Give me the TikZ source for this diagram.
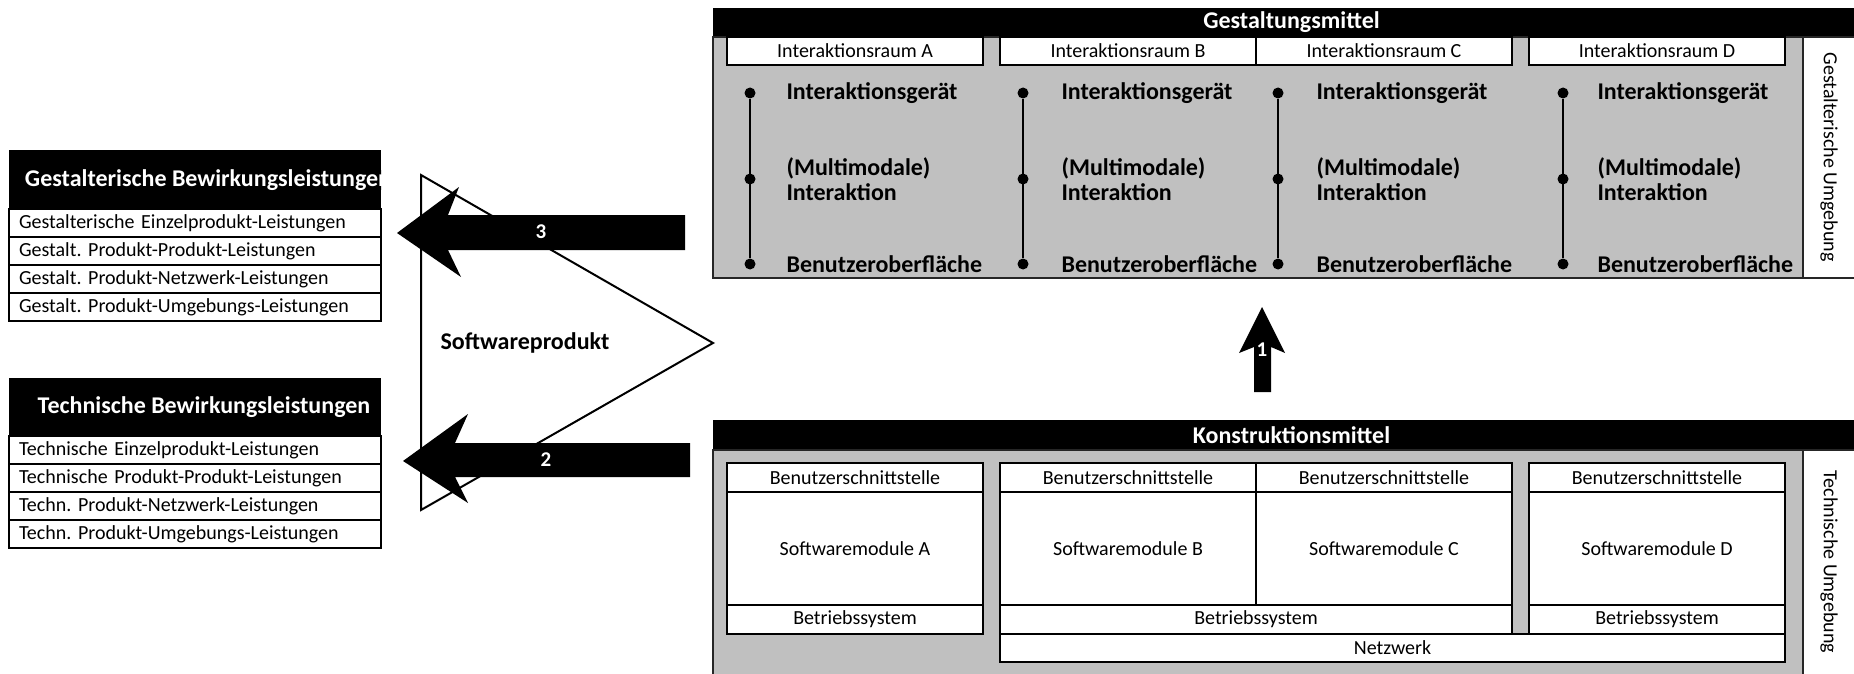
\documentclass[tikz,border=0pt]{standalone}
\usepackage{fontspec}
\setmainfont{Carlito}
\usetikzlibrary{positioning}
\frenchspacing

\definecolor{panelgray}{RGB}{192,192,192}
\newcommand{\cellfont}{\fontsize{20}{24}\selectfont}
\newcommand{\labelfont}{\fontsize{24}{25}\selectfont\bfseries}

\tikzset{
  cell/.style={draw, fill=white, line width=1.2pt, inner sep=0pt, outer sep=0pt, font=\cellfont},
  rowcell/.style={cell, minimum width=372pt, minimum height=28pt, text width=352pt, align=left},
  headbar/.style={fill=black, text=white, inner sep=0pt, outer sep=0pt, font=\labelfont},
  itemlabel/.style={anchor=west, font=\labelfont, align=left},
  dot/.style={circle, fill=black, inner sep=0pt, minimum size=11pt},
  frame/.style={draw=black!85, line width=1.2pt},
  arrownum/.style={text=white, font=\fontsize{21}{22}\selectfont\bfseries},
}

\begin{document}
\begin{tikzpicture}[x=1pt, y=-1pt]
\clip (0,0) rectangle (1854,674);

% Bewirkungsleistungen (links)
\fill (9,150) rectangle (381,209);
\begin{scope}
  \clip (9,150) rectangle (381,209);
  \node[headbar] (gbl) at (208,180) {Gestalterische Bewirkungsleistungen};
\end{scope}
\node[rowcell, anchor=north west] (g1) at (9,209) {Gestalterische Einzelprodukt-Leistungen};
\node[rowcell, below=0pt of g1] (g2) {Gestalt. Produkt-Produkt-Leistungen};
\node[rowcell, below=0pt of g2] (g3) {Gestalt. Produkt-Netzwerk-Leistungen};
\node[rowcell, below=0pt of g3] (g4) {Gestalt. Produkt-Umgebungs-Leistungen};

\fill (9,378) rectangle (381,436);
\node[headbar] (tbl) at (204,407) {Technische Bewirkungsleistungen};
\node[rowcell, anchor=north west] (t1) at (9,436) {Technische Einzelprodukt-Leistungen};
\node[rowcell, below=0pt of t1] (t2) {Technische Produkt-Produkt-Leistungen};
\node[rowcell, below=0pt of t2] (t3) {Techn. Produkt-Netzwerk-Leistungen};
\node[rowcell, below=0pt of t3] (t4) {Techn. Produkt-Umgebungs-Leistungen};

% Softwareprodukt
\draw[line width=2pt] (421,175) -- (421,510) -- (713,343) -- cycle;
\node[itemlabel] (sp) at (437,343) {Softwareprodukt};

% Blockpfeile
\fill (685,215) -- (448,215) -- (459,187) -- (397,233) -- (461,277) -- (448,250) -- (685,250) -- cycle;
\node[arrownum] (n3) at (541,232) {3};
\fill (690,443) -- (455,443) -- (468,414) -- (403,461) -- (468,503) -- (455,477) -- (690,477) -- cycle;
\node[arrownum] (n2) at (546,460) {2};
\fill (1271,392) -- (1271,347) -- (1285,353) -- (1262,307) -- (1239,353) -- (1254,347) -- (1254,392) -- cycle;
\node[arrownum] (n1) at (1262,350) {1};

% Gestaltungsmittel
\node[headbar, anchor=north west, minimum width=1157pt, minimum height=29pt] (gm) at (713,8) {Gestaltungsmittel};
\draw[frame, fill=panelgray] (713,37) rectangle (1803,278);
\draw[frame, fill=white] (1803,37) rectangle (1880,278);
\node[rotate=-90, font=\cellfont] (gu) at (1829,157) {Gestalterische Umgebung};

\node[cell, minimum width=256pt, minimum height=28pt] (raumA) at (855,51) {Interaktionsraum A};
\node[cell, minimum width=256pt, minimum height=28pt] (raumB) at (1128,51) {Interaktionsraum B};
\node[cell, minimum width=256pt, minimum height=28pt, right=0pt of raumB] (raumC) {Interaktionsraum C};
\node[cell, minimum width=256pt, minimum height=28pt] (raumD) at (1657,51) {Interaktionsraum D};

\node[dot] (a1) at (750,93) {};
\node[dot] (a2) at (750,179) {};
\node[dot] (a3) at (750,264) {};
\draw[line width=1.5pt] (a1) -- (a3);
\node[itemlabel] (geraetA) at (783,93) {Interaktionsgerät};
\node[itemlabel] (modalA) at (783,179) {(Multimodale)\\Interaktion};
\node[itemlabel] (oberA) at (783,264) {Benutzeroberfläche};

\node[dot] (b1) at (1023,93) {};
\node[dot] (b2) at (1023,179) {};
\node[dot] (b3) at (1023,264) {};
\draw[line width=1.5pt] (b1) -- (b3);
\node[itemlabel] (geraetB) at (1058,93) {Interaktionsgerät};
\node[itemlabel] (modalB) at (1058,179) {(Multimodale)\\Interaktion};
\node[itemlabel] (oberB) at (1058,264) {Benutzeroberfläche};

\node[dot] (c1) at (1278,93) {};
\node[dot] (c2) at (1278,179) {};
\node[dot] (c3) at (1278,264) {};
\draw[line width=1.5pt] (c1) -- (c3);
\node[itemlabel] (geraetC) at (1313,93) {Interaktionsgerät};
\node[itemlabel] (modalC) at (1313,179) {(Multimodale)\\Interaktion};
\node[itemlabel] (oberC) at (1313,264) {Benutzeroberfläche};

\node[dot] (d1) at (1563,93) {};
\node[dot] (d2) at (1563,179) {};
\node[dot] (d3) at (1563,264) {};
\draw[line width=1.5pt] (d1) -- (d3);
\node[itemlabel] (geraetD) at (1594,93) {Interaktionsgerät};
\node[itemlabel] (modalD) at (1594,179) {(Multimodale)\\Interaktion};
\node[itemlabel] (oberD) at (1594,264) {Benutzeroberfläche};

% Konstruktionsmittel
\node[headbar, anchor=north west, minimum width=1157pt, minimum height=30pt] (km) at (713,420) {Konstruktionsmittel};
\draw[frame, fill=panelgray] (713,450) rectangle (1803,690);
\draw[frame, fill=white] (1803,450) rectangle (1880,690);
\node[rotate=-90, font=\cellfont] (tu) at (1829,562) {Technische Umgebung};

\node[cell, minimum width=256pt, minimum height=29pt, anchor=north west] (schA) at (727,463) {Benutzerschnittstelle};
\node[cell, minimum width=256pt, minimum height=113pt, below=0pt of schA] (modA) {Softwaremodule A};
\node[cell, minimum width=256pt, minimum height=29pt, below=0pt of modA] (bsA) {Betriebssystem};

\node[cell, minimum width=256pt, minimum height=29pt, anchor=north west] (schB) at (1000,463) {Benutzerschnittstelle};
\node[cell, minimum width=256pt, minimum height=113pt, below=0pt of schB] (modB) {Softwaremodule B};
\node[cell, minimum width=256pt, minimum height=29pt, right=0pt of schB] (schC) {Benutzerschnittstelle};
\node[cell, minimum width=256pt, minimum height=113pt, below=0pt of schC] (modC) {Softwaremodule C};
\node[cell, minimum width=512pt, minimum height=29pt, anchor=north west] (bsBC) at (modB.south west) {Betriebssystem};

\node[cell, minimum width=256pt, minimum height=29pt, anchor=north west] (schD) at (1529,463) {Benutzerschnittstelle};
\node[cell, minimum width=256pt, minimum height=113pt, below=0pt of schD] (modD) {Softwaremodule D};
\node[cell, minimum width=256pt, minimum height=29pt, below=0pt of modD] (bsD) {Betriebssystem};

\node[cell, minimum width=785pt, minimum height=28pt, anchor=north west] (netz) at (bsBC.south west) {Netzwerk};
\end{tikzpicture}
\end{document}
